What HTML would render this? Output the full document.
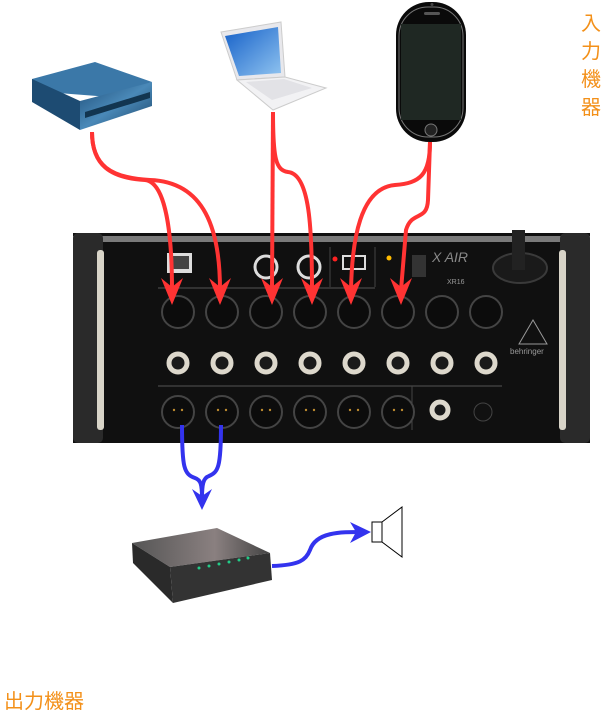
<!DOCTYPE html>
<html><head><meta charset="utf-8"><style>
html,body{margin:0;padding:0;background:#fff;width:614px;height:724px;overflow:hidden}
.t{position:absolute;color:#f39019;font-family:"Liberation Sans","Noto Sans CJK JP",sans-serif;font-size:20px}
</style></head><body>
<svg width="614" height="724" viewBox="0 0 614 724" style="position:absolute;left:0;top:0">
<defs>
<linearGradient id="rk" x1="0" y1="0" x2="1" y2="1"><stop offset="0" stop-color="#1f4f7a"/><stop offset=".5" stop-color="#4a89b8"/><stop offset="1" stop-color="#1b4366"/></linearGradient>
<linearGradient id="sc" x1="0" y1="0" x2="1" y2="1"><stop offset="0" stop-color="#1560c8"/><stop offset="1" stop-color="#8fc3f0"/></linearGradient>
<linearGradient id="rt" x1="0" y1="0" x2="1" y2="0"><stop offset="0" stop-color="#555"/><stop offset=".6" stop-color="#8a8080"/><stop offset="1" stop-color="#444"/></linearGradient>
</defs>
<!-- rack device -->
<polygon points="32,79 95,62 152,82 110,97 32,91" fill="#3b78a8"/>
<polygon points="32,79 80,101 80,130 32,102" fill="#1d4b72"/>
<polygon points="80,101 152,82 152,106 80,130" fill="url(#rk)"/>
<polygon points="85,112 150,92 150,98 85,118" fill="#123550"/>
<!-- laptop -->
<polygon points="221,32 281,22 285,77 237,80" fill="#e8e8ec" stroke="#ccc"/>
<polygon points="225,36 278,27 281,73 239,76" fill="url(#sc)"/>
<polygon points="237,80 285,77 326,88 273,110" fill="#f2f2f4" stroke="#ccc"/>
<polygon points="246,82 284,79 312,88 272,100" fill="#e2e2e6"/>
<!-- phone -->
<rect x="396" y="2" width="70" height="140" rx="33" fill="#0a0a0a"/>
<rect x="399" y="7" width="64" height="130" rx="29" fill="none" stroke="#777" stroke-width="1"/>
<rect x="401" y="24" width="60" height="96" fill="#1f2823"/>
<rect x="424" y="12" width="16" height="3" rx="1.5" fill="#555"/>
<circle cx="432" cy="4.5" r="1.5" fill="#444"/>
<circle cx="431" cy="130" r="6" fill="#222" stroke="#777"/>
<!-- mixer -->
<rect x="73" y="233" width="517" height="210" fill="#101010"/>
<rect x="73" y="236" width="517" height="6" fill="#7a7a7a"/>
<rect x="73" y="233" width="30" height="210" rx="5" fill="#2a2a2a"/>
<rect x="560" y="233" width="30" height="210" rx="5" fill="#2a2a2a"/>
<rect x="97" y="250" width="7" height="180" rx="3" fill="#d8d4c8"/>
<rect x="559" y="250" width="7" height="180" rx="3" fill="#d8d4c8"/>
<rect x="167" y="253" width="25" height="20" fill="#ddd"/>
<rect x="170" y="256" width="19" height="13" fill="#444"/>
<circle cx="266" cy="267" r="11" fill="none" stroke="#ddd" stroke-width="3"/>
<circle cx="309" cy="267" r="11" fill="none" stroke="#ddd" stroke-width="3"/>
<rect x="343" y="256" width="22" height="13" fill="none" stroke="#ddd" stroke-width="2"/>
<circle cx="335" cy="259" r="2.5" fill="#f22"/>
<circle cx="389" cy="258" r="2.5" fill="#fb0"/>
<rect x="412" y="255" width="14" height="22" fill="#333"/>
<text x="432" y="262" fill="#888" font-family="Liberation Sans" font-size="14" font-style="italic">X AIR</text>
<text x="447" y="284" fill="#999" font-family="Liberation Sans" font-size="7">XR16</text>
<ellipse cx="520" cy="268" rx="27" ry="15" fill="#1a1a1a" stroke="#3a3a3a" stroke-width="2"/>
<rect x="512" y="230" width="13" height="40" fill="#222"/>
<line x1="158" y1="288" x2="375" y2="288" stroke="#555"/>
<line x1="158" y1="386" x2="502" y2="386" stroke="#555"/>
<line x1="330" y1="247" x2="330" y2="287" stroke="#444"/>
<line x1="375" y1="247" x2="375" y2="287" stroke="#444"/>
<line x1="412" y1="386" x2="412" y2="430" stroke="#444"/>
<polygon points="533,320 519,344 547,344" fill="none" stroke="#999"/>
<text x="510" y="354" fill="#999" font-family="Liberation Sans" font-size="8">behringer</text>
<g fill="#0c0c0c" stroke="#444" stroke-width="2">
<circle cx="178" cy="312" r="16"/><circle cx="222" cy="312" r="16"/><circle cx="266" cy="312" r="16"/><circle cx="310" cy="312" r="16"/><circle cx="354" cy="312" r="16"/><circle cx="398" cy="312" r="16"/><circle cx="442" cy="312" r="16"/><circle cx="486" cy="312" r="16"/>
<circle cx="178" cy="412" r="16"/><circle cx="222" cy="412" r="16"/><circle cx="266" cy="412" r="16"/><circle cx="310" cy="412" r="16"/><circle cx="354" cy="412" r="16"/><circle cx="398" cy="412" r="16"/>
</g>
<g fill="#bb8a30"><circle cx="174" cy="410" r="1.2"/><circle cx="182" cy="410" r="1.2"/><circle cx="218" cy="410" r="1.2"/><circle cx="226" cy="410" r="1.2"/><circle cx="262" cy="410" r="1.2"/><circle cx="270" cy="410" r="1.2"/><circle cx="306" cy="410" r="1.2"/><circle cx="314" cy="410" r="1.2"/><circle cx="350" cy="410" r="1.2"/><circle cx="358" cy="410" r="1.2"/><circle cx="394" cy="410" r="1.2"/><circle cx="402" cy="410" r="1.2"/></g>
<g fill="#1a1a1a" stroke="#ddd8cc" stroke-width="5">
<circle cx="178" cy="363" r="9"/><circle cx="222" cy="363" r="9"/><circle cx="266" cy="363" r="9"/><circle cx="310" cy="363" r="9"/><circle cx="354" cy="363" r="9"/><circle cx="398" cy="363" r="9"/><circle cx="442" cy="363" r="9"/><circle cx="486" cy="363" r="9"/>
<circle cx="440" cy="410" r="8"/>
</g>
<circle cx="483" cy="412" r="9" fill="#111" stroke="#444"/>
<!-- red cables -->
<g fill="none" stroke="#f33" stroke-width="4">
<path d="M92,132 C92,165 110,178 145,180 C165,182 172,230 172,290"/>
<path d="M92,132 C92,165 110,178 150,180 C205,182 220,230 220,290"/>
<path d="M273,112 L272,290"/>
<path d="M273,112 C273,160 276,170 288,172 C310,174 312,230 312,290"/>
<path d="M430,142 C430,175 420,183 395,185 C360,188 352,240 351,290"/>
<path d="M430,142 L428,200 C427,222 412,210 406,230 L401,290"/>
</g>
<g fill="#f33">
<path d="M161,278 L172,305 L183,278 L172,287Z"/>
<path d="M209,278 L220,305 L231,278 L220,287Z"/>
<path d="M261,278 L272,305 L283,278 L272,287Z"/>
<path d="M301,278 L312,305 L323,278 L312,287Z"/>
<path d="M340,278 L351,305 L362,278 L351,287Z"/>
<path d="M390,278 L401,305 L412,278 L401,287Z"/>
</g>
<!-- blue cables -->
<g fill="none" stroke="#33e" stroke-width="4">
<path d="M182,425 C182,468 184,474 195,478 C201,480 202,485 202,498"/>
<path d="M221,425 C221,468 218,472 209,476 C203,478 202,485 202,498"/>
<path d="M272,566 C300,565 306,560 310,550 C316,532 340,532 362,532"/>
</g>
<path d="M192,489 L202,510 L212,489 L202,496Z" fill="#33e"/>
<path d="M350,522 L371,532 L350,543 L356,532Z" fill="#33e"/>
<!-- speaker -->
<rect x="372" y="522" width="10" height="20" fill="#fff" stroke="#000"/>
<polygon points="382,522 402,507 402,557 382,542" fill="#fff" stroke="#000"/>
<!-- router -->
<polygon points="132,543 217,528 270,553 170,567" fill="url(#rt)"/>
<polygon points="132,543 170,567 173,603 133,563" fill="#2a2a2a"/>
<polygon points="170,567 270,553 272,580 173,603" fill="#333"/>
<g fill="#2c8"><circle cx="199" cy="568" r="1.5"/><circle cx="209" cy="566" r="1.5"/><circle cx="219" cy="564" r="1.5"/><circle cx="229" cy="562" r="1.5"/><circle cx="239" cy="560" r="1.5"/><circle cx="248" cy="558" r="1.5"/></g>
</svg>
<div class="t" style="left:581px;top:10px;width:22px;line-height:28px">入力機器</div>
<div class="t" style="left:4px;top:685px">出力機器</div>
</body></html>
